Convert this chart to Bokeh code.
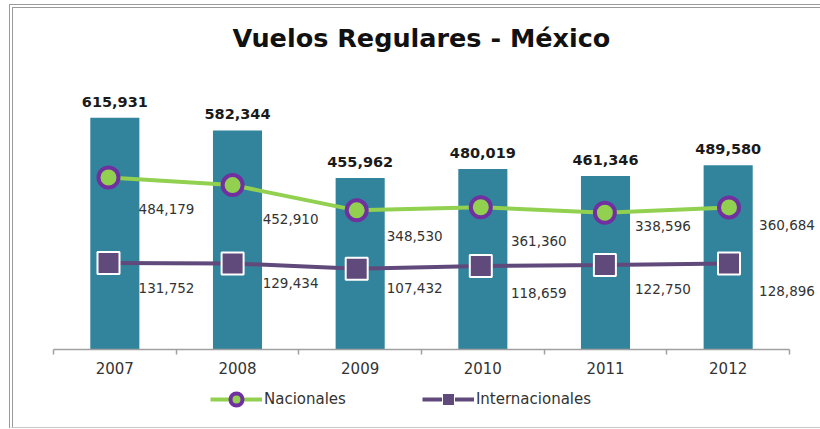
from bokeh.plotting import figure
from bokeh.layouts import column
from bokeh.models import (ColumnDataSource, Range1d, FixedTicker, LabelSet, Label,
                          Legend, LegendItem)
from bokeh.core.properties import value
from bokeh.embed import file_html
from bokeh.resources import INLINE

# ---- data ----
title_text = "Vuelos Regulares - México"
years = ["2007", "2008", "2009", "2010", "2011", "2012"]
total = [615931, 582344, 455962, 480019, 461346, 489580]
nacionales = [484179, 452910, 348530, 361360, 338596, 360684]
internacionales = [131752, 129434, 107432, 118659, 122750, 128896]
series_names = ["Nacionales", "Internacionales"]

# ---- label placement (style) ----
nac_dy = [-32, -34, -26, -34, -13, -18]
int_dy = [-25, -20, -19, -27, -24, -27]

pos = list(range(1, len(years) + 1))
src = ColumnDataSource(dict(
    x=pos,
    total=total,
    nac=nacionales,
    intl=internacionales,
    total_lbl=[f"{v:,}" for v in total],
    nac_lbl=[f"{v:,}" for v in nacionales],
    int_lbl=[f"{v:,}" for v in internacionales],
    nac_dy=nac_dy,
    int_dy=int_dy,
))

FONT = "DejaVu Sans"
TEAL = "#31849B"
GREEN = "#92D050"
VIOLET = "#7030A0"
PURPLE = "#604A7B"
Y_END = 906480

W = 807
p = figure(width=W, height=370,
           x_range=Range1d(0.1739, 6.7527), y_range=Range1d(0, Y_END),
           output_backend="svg", toolbar_location=None, y_axis_location=None,
           min_border_left=0, min_border_right=0,
           min_border_top=0, min_border_bottom=29)
p.extra_y_ranges = {"sec": Range1d(-225700, 1181600)}
p.extra_x_ranges = {"lx": Range1d(0.2345, 6.7373)}

p.xgrid.visible = False
p.ygrid.visible = False
p.outline_line_color = None
p.background_fill_color = "white"
p.border_fill_color = "white"

# title
p.add_layout(Label(x=(pos[0] + pos[-1]) / 2, y=Y_END, y_offset=-29,
                   text=title_text, text_align="center", text_baseline="middle",
                   text_font=FONT, text_font_size="25.5px", text_font_style="bold",
                   text_color="#111111"))

# x axis
ax = p.xaxis[0]
ax.bounds = (pos[0] - 0.5, pos[-1] + 0.5)
ax.ticker = FixedTicker(ticks=pos, minor_ticks=[i + 0.5 for i in range(0, len(years) + 1)])
ax.major_label_overrides = {i: y for i, y in zip(pos, years)}
ax.major_tick_line_color = None
ax.major_tick_out = 5
ax.major_tick_in = 0
ax.minor_tick_out = 5
ax.minor_tick_in = 0
ax.minor_tick_line_color = "#a0a0a0"
ax.minor_tick_line_width = 1.5
ax.axis_line_color = "#a0a0a0"
ax.axis_line_width = 1.5
ax.major_label_standoff = 7
ax.major_label_text_font = FONT
ax.major_label_text_font_size = "15px"
ax.major_label_text_color = "#333333"

# bars
p.vbar(x="x", top="total", width=0.4, source=src,
       fill_color=TEAL, line_color=None)

# lines
p.line(x="x", y="nac", source=src, line_color=GREEN, line_width=4,
       x_range_name="lx", y_range_name="sec")
p.scatter(x="x", y="nac", source=src, marker="circle", size=20,
          fill_color=GREEN, line_color=VIOLET, line_width=4,
          x_range_name="lx", y_range_name="sec")
p.line(x="x", y="intl", source=src, line_color=PURPLE, line_width=4,
       x_range_name="lx", y_range_name="sec")
p.scatter(x="x", y="intl", source=src, marker="square", size=22,
          fill_color=PURPLE, line_color="white", line_width=2,
          x_range_name="lx", y_range_name="sec")

# labels
p.add_layout(LabelSet(x="x", y="total", text="total_lbl", source=src,
                      text_align="center", text_baseline="bottom", y_offset=11,
                      text_font=value(FONT), text_font_size="14.5px",
                      text_font_style="bold", text_color="#1a1a1a"))
p.add_layout(LabelSet(x="x", y="nac", text="nac_lbl", source=src,
                      x_range_name="lx", y_range_name="sec",
                      text_align="center", text_baseline="middle",
                      x_offset=58, y_offset="nac_dy",
                      text_font=value(FONT), text_font_size="13.5px",
                      text_color="#333333"))
p.add_layout(LabelSet(x="x", y="intl", text="int_lbl", source=src,
                      x_range_name="lx", y_range_name="sec",
                      text_align="center", text_baseline="middle",
                      x_offset=58, y_offset="int_dy",
                      text_font=value(FONT), text_font_size="13.5px",
                      text_color="#333333"))

# ---- legend strip (series glyphs drawn off-view, used only for the legend) ----
lg = figure(width=W, height=49, x_range=Range1d(-20, -19), y_range=Range1d(0, 1),
            output_backend="svg", toolbar_location=None,
            x_axis_location=None, y_axis_location=None,
            min_border_left=0, min_border_right=0,
            min_border_top=0, min_border_bottom=0)
lg.xgrid.visible = False
lg.ygrid.visible = False
lg.outline_line_color = None
lg.background_fill_color = "white"
lg.border_fill_color = "white"
l1 = lg.line(x="x", y="nac", source=src, line_color=GREEN, line_width=4)
m1 = lg.scatter(x="x", y="nac", source=src, marker="circle",
                fill_color=GREEN, line_color=VIOLET, line_width=4)
l2 = lg.line(x="x", y="intl", source=src, line_color=PURPLE, line_width=4)
m2 = lg.scatter(x="x", y="intl", source=src, marker="square",
                fill_color=PURPLE, line_color="white", line_width=1)
legend = Legend(items=[LegendItem(label=value(series_names[0]), renderers=[l1, m1]),
                       LegendItem(label=value(series_names[1]), renderers=[l2, m2])],
                orientation="horizontal", location=(197, 13),
                glyph_width=52, glyph_height=30, label_standoff=2, spacing=76,
                padding=2, margin=0, border_line_color=None,
                background_fill_alpha=0,
                label_text_font=FONT, label_text_font_size="15px",
                label_text_color="#333333")
lg.add_layout(legend, "center")

layout = column(p, lg, spacing=0)
layout.styles = {"margin-left": "9px", "margin-top": "4px",
                 "border-top": "4px double #9a9a9a",
                 "border-left": "4px double #9a9a9a",
                 "border-bottom": "1px solid #c8c8c8"}

open("out.html", "w").write(file_html(layout, INLINE))
